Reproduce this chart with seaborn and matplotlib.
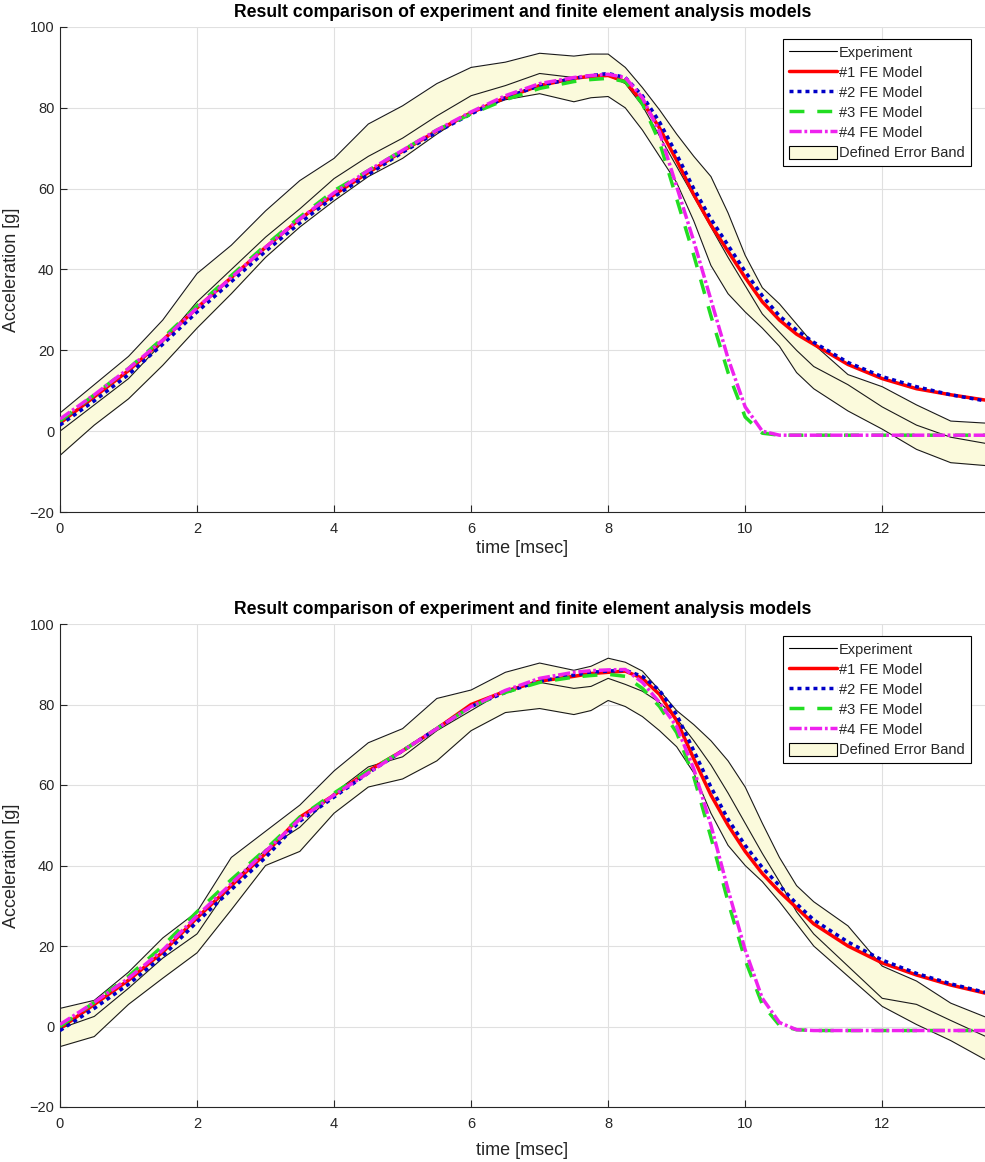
import matplotlib
matplotlib.use('Agg')
import matplotlib.pyplot as plt
from matplotlib.lines import Line2D
from matplotlib.patches import Patch
import seaborn as sns

# time axis [msec], shared by every series
t_ms = [0, 0.5, 1, 1.5, 2, 2.5, 3, 3.5, 4, 4.5, 5, 5.5, 6, 6.5, 7, 7.5, 7.75, 8,
        8.25, 8.5, 8.75, 9, 9.25, 9.5, 9.75, 10, 10.25, 10.5, 10.75, 11, 11.5,
        12, 12.5, 13, 13.5]

# ---- top panel ----
top_exp = [0, 6.5, 13, 22, 32, 40, 48, 55, 62.5, 68, 72.5, 78, 83, 85.5, 88.5,
           87.5, 88, 88, 86, 80.5, 73, 65.5, 58, 50.5, 43, 36, 29, 24.5, 20, 16,
           11.5, 6, 1.5, -1.5, -3]
top_upper = [4.5, 11.5, 18.5, 27.5, 39, 46, 54.5, 62, 67.5, 76, 80.5, 86, 90,
             91.3, 93.5, 92.8, 93.3, 93.3, 90, 85, 79.5, 73.5, 68, 63, 54, 43.5,
             35.5, 31.5, 26.5, 21.5, 14, 11, 6.5, 2.5, 2]
top_lower = [-6, 1.5, 8, 16.3, 25.5, 34, 43, 50.5, 57, 63, 67.5, 73.5, 79, 82,
             83.5, 81.5, 82.5, 82.8, 80, 74.5, 68, 61.5, 52, 41, 34, 29.5, 25.5,
             21, 14.5, 10.5, 5, 0.5, -4.5, -7.8, -8.5]
top_fe1 = [2, 8.5, 15, 22.5, 30.5, 38, 45.5, 52.5, 58.5, 64, 69.3, 74.3, 78.8,
           82.5, 85.5, 87.3, 87.8, 88, 86.5, 81.5, 75, 67, 58.5, 51, 44.5, 38, 32,
           27.5, 24, 21.5, 16.5, 13, 10.5, 9, 7.7]
top_fe2 = [1.5, 7.5, 14, 21.5, 29.5, 37, 44.5, 51.5, 58, 63.5, 69, 74, 78.5,
           82.5, 85.5, 87.3, 88, 88.5, 87.5, 83, 76.5, 68.5, 60, 52.5, 46, 39.5,
           33.5, 28.5, 25, 22, 17, 13.5, 11, 9, 7.5]
top_fe3 = [2.5, 9, 15.5, 23, 31, 38.5, 46, 53, 59.5, 64.5, 69.5, 74.5, 78.5, 82,
           84.8, 86.5, 87, 87.3, 86.5, 81, 71.5, 57.5, 43.5, 28.5, 14.5, 3.5,
           -0.5, -1, -1, -1, -1, -1, -1, -1, -1]
top_fe4 = [3, 9, 15.5, 22.5, 30.5, 38, 45.5, 52.5, 59, 64.5, 69.5, 74.5, 79, 83,
           86, 87.5, 88, 88.3, 87.5, 82.5, 74, 60.5, 47, 32.5, 18, 6, 0, -1, -1,
           -1, -1, -1, -1, -1, -1]

# ---- bottom panel ----
bot_exp = [-0.5, 2.5, 9.5, 17, 23, 35.5, 44, 49.5, 58, 64.5, 67, 73.5, 78.5,
           83.5, 85.5, 84, 84.5, 86.5, 85, 83.3, 80.5, 76.5, 71, 65, 58, 50.5, 43,
           36, 28.5, 23, 15, 7, 5.5, 1.5, -2.4]
bot_upper = [4.5, 6.5, 13.5, 22, 28.5, 42, 48.5, 55, 63.5, 70.5, 74, 81.5, 83.6,
             88, 90.3, 88.5, 89.5, 91.5, 90.5, 88.3, 83.5, 78.5, 75, 71, 66,
             59.5, 50.5, 42, 35, 31, 25, 15, 11.3, 5.8, 2.4]
bot_lower = [-5, -2.5, 5.5, 12, 18.3, 29, 40, 43.5, 53, 59.5, 61.5, 66, 73.5, 78,
             79, 77.5, 78.5, 81, 79.5, 77, 73.5, 69.5, 63, 53, 45, 40, 36, 31,
             25.5, 20, 12.5, 5, 0.5, -3.5, -8.2]
bot_fe1 = [-0.5, 5.5, 11.5, 18.5, 27, 35, 43, 52, 57.5, 63.5, 68.5, 74, 80,
           83.3, 85.8, 87, 87.7, 88, 88.3, 86.5, 82.5, 76, 66.5, 57.5, 50, 43.5,
           38, 33.5, 29.5, 25.5, 20, 15.8, 12.8, 10.3, 8.3]
bot_fe2 = [-1, 4.5, 10.5, 17.5, 26, 34, 42, 51, 57, 63, 68.5, 74, 79.5, 83,
           85.8, 87.3, 88, 88.3, 88.5, 87, 83.5, 77.5, 68.5, 59.5, 51.5, 45, 39.5,
           35, 30.5, 26.5, 21, 16.5, 13.2, 10.6, 8.5]
bot_fe3 = [0, 6, 12.5, 20, 28.5, 36.5, 44, 52, 58, 63.5, 68.5, 74, 79.5, 83,
           85.5, 86.8, 87.2, 87.5, 87, 84, 79.5, 73, 62, 47, 31, 16.5, 5.5, 0.3,
           -0.8, -1, -1, -1, -1, -1, -1]
bot_fe4 = [0.5, 6, 12, 19, 27.5, 35.5, 43.5, 51.5, 57.5, 63, 68.5, 74, 79.5,
           83.5, 86.5, 88, 88.4, 88.6, 88.7, 85.5, 80.5, 74.5, 64, 50, 34, 19, 7,
           1, -0.8, -1, -1, -1, -1, -1, -1]

fe_labels = ['#1 FE Model', '#2 FE Model', '#3 FE Model', '#4 FE Model']
fe_colors = ['#FF0000', '#0000C8', '#22DD22', '#EE22EE']
fe_styles = ['-', (0, (1.15, 1.15)), (0, (4.3, 3.7)), (0, (3.5, 0.8, 0.8, 0.8))]

sns.set_style('ticks')
plt.rcParams['font.family'] = ['Liberation Sans', 'DejaVu Sans']

band_color = '#FBFADC'
axis_color = '#262626'
title = 'Result comparison of experiment and finite element analysis models'


def draw_panel(ax, exp, upper, lower, fes):
    ax.fill_between(t_ms, lower, upper, color=band_color, lw=0, zorder=1)
    for arr in (upper, exp, lower):
        sns.lineplot(x=t_ms, y=arr, ax=ax, color='#1a1a1a', lw=0.8, zorder=2)
    for arr, c, ls in zip(fes, fe_colors, fe_styles):
        sns.lineplot(x=t_ms, y=arr, ax=ax, color=c, lw=2.5, linestyle=ls, zorder=3)

    ax.set_xlim(0, 13.5)
    ax.set_ylim(-20, 100)
    ax.set_xticks(range(0, 13, 2))
    ax.set_yticks(range(-20, 101, 20))
    ax.grid(True, color='#E0E0E0', lw=0.8)
    ax.set_axisbelow(True)
    for s in ('top', 'right'):
        ax.spines[s].set_visible(False)
    for s in ('left', 'bottom'):
        ax.spines[s].set_color(axis_color)
        ax.spines[s].set_linewidth(0.8)
    ax.tick_params(direction='in', length=5, width=0.8, colors=axis_color,
                   labelsize=10.5)
    ax.tick_params(axis='x', pad=7)
    ax.tick_params(axis='y', pad=4)

    ax.set_title(title, fontsize=12.7, fontweight='bold', color='black', pad=7)
    ax.set_xlabel('time [msec]', fontsize=13, color=axis_color)
    ax.set_ylabel('Acceleration [g]', fontsize=13, color=axis_color)
    ax.yaxis.set_label_coords(-0.0435, 0.5)

    handles = [Line2D([], [], color='black', lw=0.8)]
    handles += [Line2D([], [], color=c, lw=2.5, linestyle=ls)
                for c, ls in zip(fe_colors, fe_styles)]
    handles.append(Patch(facecolor=band_color, edgecolor='black', lw=0.8))
    labels = ['Experiment'] + fe_labels + ['Defined Error Band']
    leg = ax.legend(handles, labels, loc='upper right',
                    bbox_to_anchor=(0.985, 0.975), borderaxespad=0,
                    fontsize=10.5, frameon=True, fancybox=False, framealpha=1,
                    edgecolor='black', handlelength=3.3, handleheight=1.0,
                    handletextpad=0.15, labelspacing=0.38, borderpad=0.42)
    leg.get_frame().set_linewidth(0.8)


fig = plt.figure(figsize=(9.85, 11.62), dpi=100)
ax_top = fig.add_axes([60 / 985, (1162 - 512) / 1162, 925 / 985, 485 / 1162])
ax_bot = fig.add_axes([60 / 985, (1162 - 1107) / 1162, 925 / 985, 483 / 1162])

draw_panel(ax_top, top_exp, top_upper, top_lower,
           [top_fe1, top_fe2, top_fe3, top_fe4])
draw_panel(ax_bot, bot_exp, bot_upper, bot_lower,
           [bot_fe1, bot_fe2, bot_fe3, bot_fe4])
ax_top.xaxis.set_label_coords(0.5, -0.058)
ax_bot.xaxis.set_label_coords(0.5, -0.072)

fig.savefig('out.png', dpi=100)
